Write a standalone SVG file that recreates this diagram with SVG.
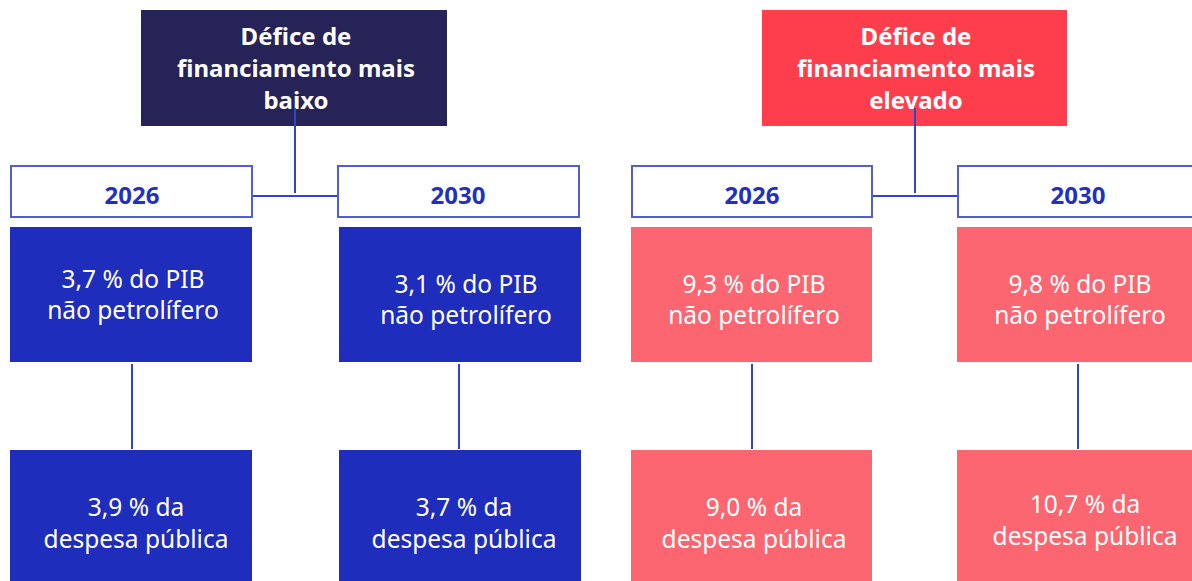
<svg xmlns="http://www.w3.org/2000/svg" width="1192" height="581" viewBox="0 0 1192 581">
<style>
.hdr{font-family:"Noto Sans","Open Sans",sans-serif;font-weight:bold;font-size:24px;fill:#ffffff;text-anchor:middle}
.yr{font-family:"Noto Sans","Open Sans",sans-serif;font-weight:bold;font-size:24px;fill:#2330bf;text-anchor:middle}
.val{font-family:"Noto Sans","Open Sans",sans-serif;font-size:24.5px;fill:#ffffff;text-anchor:middle}
.yrbox{fill:#ffffff;stroke:#4f5dd6;stroke-width:2}
.blue{fill:#1f2dbd}
.pink{fill:#fc6670}
.conn{stroke:#3442cc;stroke-width:2;fill:none}
</style>
<rect width="1192" height="581" fill="#ffffff"/>
<g id="hdr-low">
<rect x="141" y="10" width="306" height="116" fill="#262358"/>
<text class="hdr" x="296" y="45">Défice de</text>
<text class="hdr" x="296" y="77">financiamento mais</text>
<text class="hdr" x="296" y="109">baixo</text>
</g>
<g id="hdr-high">
<rect x="762" y="10" width="305" height="116" fill="#fe3d4d"/>
<text class="hdr" x="916" y="45">Défice de</text>
<text class="hdr" x="916" y="77">financiamento mais</text>
<text class="hdr" x="916" y="109">elevado</text>
</g>
<g id="connectors">
<path class="conn" d="M295 108V193M252 196H338"/>
<path class="conn" d="M915 108V193M872 196H958"/>
<path class="conn" d="M132 364V449"/>
<path class="conn" d="M459 364V449"/>
<path class="conn" d="M752 364V449"/>
<path class="conn" d="M1078 364V449"/>
</g>
<g id="yr-low-2026"><rect class="yrbox" x="11" y="166" width="241" height="51"/><text class="yr" x="132" y="204">2026</text></g>
<g id="yr-low-2030"><rect class="yrbox" x="338" y="166" width="241" height="51"/><text class="yr" x="458" y="204">2030</text></g>
<g id="yr-high-2026"><rect class="yrbox" x="632" y="166" width="240" height="51"/><text class="yr" x="752" y="204">2026</text></g>
<g id="yr-high-2030"><rect class="yrbox" x="958" y="166" width="250" height="51"/><text class="yr" x="1078" y="204">2030</text></g>
<g id="low-2026-pib"><rect class="blue" x="10" y="227" width="242" height="135"/><text class="val" x="133" y="288">3,7 % do PIB</text><text class="val" x="133" y="319">não petrolífero</text></g>
<g id="low-2030-pib"><rect class="blue" x="339" y="227" width="242" height="135"/><text class="val" x="466" y="293">3,1 % do PIB</text><text class="val" x="466" y="324">não petrolífero</text></g>
<g id="low-2026-desp"><rect class="blue" x="10" y="450" width="242" height="131"/><text class="val" x="136" y="516">3,9 % da</text><text class="val" x="136" y="548">despesa pública</text></g>
<g id="low-2030-desp"><rect class="blue" x="339" y="450" width="242" height="131"/><text class="val" x="464" y="516">3,7 % da</text><text class="val" x="464" y="548">despesa pública</text></g>
<g id="high-2026-pib"><rect class="pink" x="631" y="227" width="241" height="135"/><text class="val" x="754" y="293">9,3 % do PIB</text><text class="val" x="754" y="324">não petrolífero</text></g>
<g id="high-2030-pib"><rect class="pink" x="957" y="227" width="235" height="135"/><text class="val" x="1080" y="293">9,8 % do PIB</text><text class="val" x="1080" y="324">não petrolífero</text></g>
<g id="high-2026-desp"><rect class="pink" x="631" y="450" width="241" height="131"/><text class="val" x="754" y="516">9,0 % da</text><text class="val" x="754" y="548">despesa pública</text></g>
<g id="high-2030-desp"><rect class="pink" x="957" y="450" width="235" height="131"/><text class="val" x="1085" y="513">10,7 % da</text><text class="val" x="1085" y="545">despesa pública</text></g>
</svg>
